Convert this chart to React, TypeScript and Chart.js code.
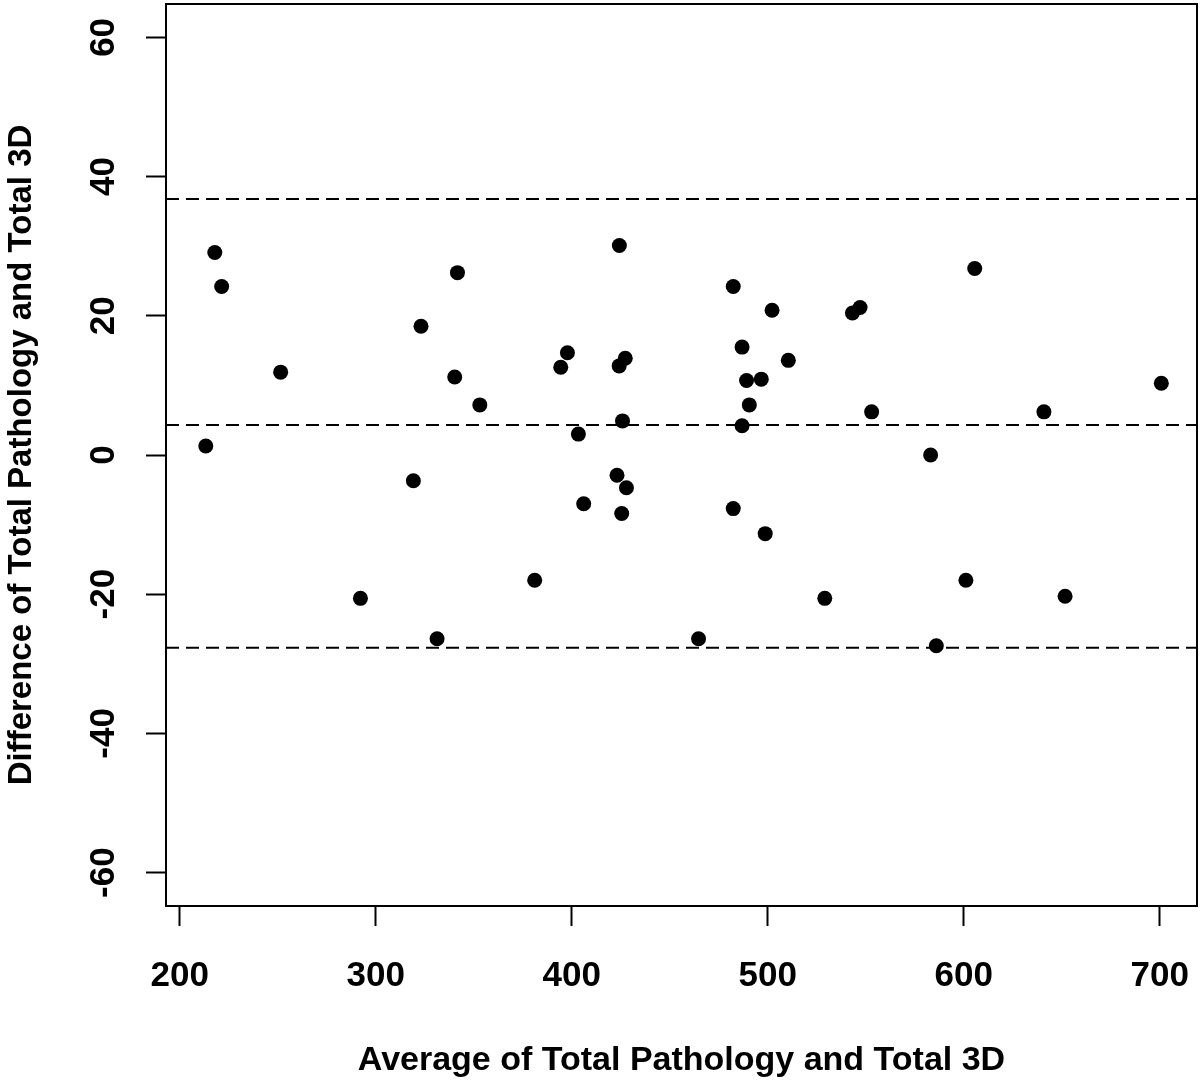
import React, { useEffect, useRef } from "react";
import { Chart, registerables } from "chart.js";

Chart.register(...registerables);

// Bland-Altman data: average (x) and difference (y)
const avgValues = [
  217.9, 221.4, 251.5, 213.3, 323.1, 341.7, 340.3, 353.1, 394.4, 397.8,
  403.4, 424.3, 424.2, 427.3, 425.9, 423.1, 427.9, 406.1, 425.5, 319.2,
  292.2, 331.3, 381.1, 482.4, 502.2, 543.2, 547.1, 605.6, 486.9, 510.5,
  489.2, 496.7, 490.6, 486.9, 553.0, 640.9, 700.8, 583.1, 482.4, 498.7,
  529.1, 601.1, 651.7, 464.7, 586.0,
];
const diffValues = [
  29.1, 24.2, 11.9, 1.3, 18.5, 26.2, 11.2, 7.2, 12.6, 14.7,
  3.0, 30.1, 12.8, 13.9, 4.9, -2.9, -4.7, -7.0, -8.4, -3.7,
  -20.6, -26.4, -18.0, 24.2, 20.8, 20.4, 21.2, 26.8, 15.5, 13.6,
  10.7, 10.9, 7.2, 4.2, 6.2, 6.2, 10.3, 0.0, -7.7, -11.3,
  -20.6, -18.0, -20.3, -26.4, -27.4,
];
// upper limit of agreement, mean difference, lower limit of agreement
const limitValues = [36.8, 4.3, -27.7];

const xTickValues = [200, 300, 400, 500, 600, 700];
const yTickValues = [-60, -40, -20, 0, 20, 40, 60];
const xTitle = "Average of Total Pathology and Total 3D";
const yTitle = "Difference of Total Pathology and Total 3D";

const X_MIN = 193;
const X_MAX = 719;
const Y_MIN = -64.8;
const Y_MAX = 64.8;

const FONT = "'Liberation Sans', Arial, Helvetica, sans-serif";

const boxPlugin = {
  id: "plotBox",
  afterDraw(chart: any) {
    const { ctx, chartArea } = chart;
    const { left, top, right, bottom } = chartArea;
    ctx.save();
    ctx.strokeStyle = "#000";
    ctx.lineWidth = 2;
    ctx.strokeRect(left, top, right - left, bottom - top);
    ctx.restore();
  },
};

function zeroPadding(s: any) {
  s.paddingTop = 0;
  s.paddingBottom = 0;
  s.paddingLeft = 0;
  s.paddingRight = 0;
}

export default function App() {
  const canvasRef = useRef<HTMLCanvasElement | null>(null);

  useEffect(() => {
    if (!canvasRef.current) return;
    const points = avgValues.map((x, i) => ({ x, y: diffValues[i] }));
    const lineSets = limitValues.map((v) => ({
      type: "line" as const,
      data: [
        { x: X_MIN, y: v },
        { x: X_MAX, y: v },
      ],
      borderColor: "#000",
      borderWidth: 2,
      borderDash: [13, 7],
      pointRadius: 0,
      fill: false,
      order: 2,
    }));

    const chart = new Chart(canvasRef.current, {
      type: "scatter",
      data: {
        datasets: [
          {
            type: "scatter",
            data: points,
            backgroundColor: "#000",
            borderColor: "#000",
            pointRadius: 7.5,
            pointBorderWidth: 0,
            order: 1,
          } as any,
          ...(lineSets as any[]),
        ],
      },
      options: {
        responsive: false,
        animation: false,
        devicePixelRatio: 1,
        layout: { autoPadding: false, padding: { top: 4, right: 3, left: 0, bottom: 0 } },
        plugins: {
          legend: { display: false },
          tooltip: { enabled: false },
        },
        scales: {
          x: {
            type: "linear",
            min: X_MIN,
            max: X_MAX,
            afterBuildTicks: (s: any) => {
              s.ticks = xTickValues.map((v) => ({ value: v }));
            },
            afterFit: (s: any) => {
              s.height = 182;
              zeroPadding(s);
            },
            border: { display: false },
            grid: {
              display: true,
              drawOnChartArea: false,
              drawTicks: true,
              tickLength: 20,
              tickWidth: 2,
              tickColor: "#000",
            },
            ticks: {
              autoSkip: false,
              maxRotation: 0,
              minRotation: 0,
              padding: 29,
              color: "#000",
              font: { family: FONT, size: 35, weight: "bold" },
              callback: (v: any) => String(v),
            },
            title: {
              display: true,
              text: xTitle,
              color: "#000",
              font: { family: FONT, size: 34, weight: "bold" },
              padding: { top: 0, bottom: 7 },
            },
          },
          y: {
            type: "linear",
            min: Y_MIN,
            max: Y_MAX,
            afterBuildTicks: (s: any) => {
              s.ticks = yTickValues.map((v) => ({ value: v }));
            },
            afterFit: (s: any) => {
              s.width = 166;
              zeroPadding(s);
            },
            border: { display: false },
            grid: {
              display: true,
              drawOnChartArea: false,
              drawTicks: true,
              tickLength: 20,
              tickWidth: 2,
              tickColor: "#000",
            },
            ticks: {
              autoSkip: false,
              minRotation: 90,
              maxRotation: 90,
              crossAlign: "center",
              padding: 16,
              color: "#000",
              font: { family: FONT, size: 35, weight: "bold" },
              callback: (v: any) => String(v),
            },
            title: {
              display: true,
              text: yTitle,
              color: "#000",
              font: { family: FONT, size: 33, weight: "bold" },
              padding: { top: 2, bottom: 0 },
            },
          },
        },
      } as any,
      plugins: [boxPlugin],
    });
    return () => chart.destroy();
  }, []);

  return (
    <div style={{ position: "absolute", left: 0, top: 0, width: 1200, height: 1088, background: "#fff" }}>
      <canvas ref={canvasRef} width={1200} height={1088} style={{ display: "block" }} />
    </div>
  );
}
